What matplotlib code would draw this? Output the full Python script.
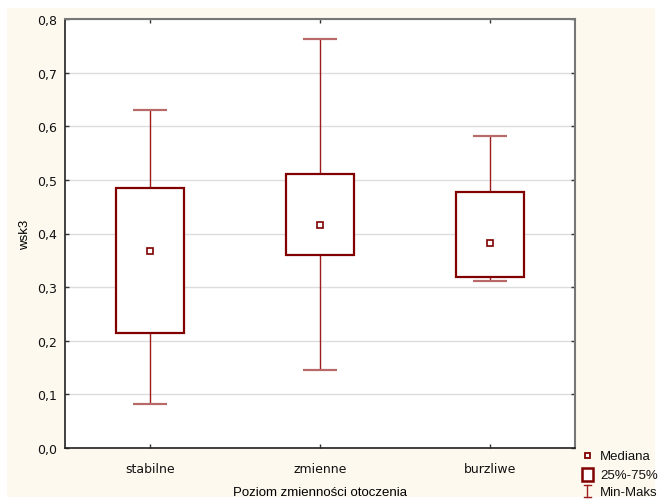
import matplotlib
matplotlib.use("Agg")
import matplotlib.pyplot as plt
from matplotlib.patches import Rectangle
from matplotlib.ticker import FuncFormatter

categories = ["stabilne", "zmienne", "burzliwe"]
minimum = [0.082, 0.145, 0.311]
q25 = [0.214, 0.360, 0.319]
median = [0.367, 0.416, 0.382]
q75 = [0.485, 0.511, 0.477]
maximum = [0.630, 0.763, 0.582]
legend_labels = ["Mediana", "25%-75%", "Min-Maks"]

box_color = "#800000"
whisk_color = "#9E1B1B"
cap_color = "#B86A6A"
bg_color = "#FDF9EF"

W, H = 663, 502
fig = plt.figure(figsize=(W / 100, H / 100), dpi=100, facecolor="white")

# full-figure overlay in pixel units for the cream panel
over = fig.add_axes([0, 0, 1, 1], zorder=-5)
over.set_xlim(0, W)
over.set_ylim(H, 0)
over.axis("off")
over.add_patch(Rectangle((7, 9), 648, 489, facecolor=bg_color, edgecolor="none"))

ax = fig.add_axes([65 / W, 1 - 449 / H, 510 / W, 429 / H])
ax.set_facecolor("white")

box_half = 0.2
cap_half = 0.1
for i in range(len(categories)):
    ax.vlines(i, maximum[i], q75[i], color=whisk_color, lw=1.0, zorder=2)
    ax.vlines(i, minimum[i], q25[i], color=whisk_color, lw=1.0, zorder=2)
    ax.hlines([minimum[i], maximum[i]], i - cap_half, i + cap_half,
              color=cap_color, lw=1.6, zorder=2)
    ax.add_patch(Rectangle((i - box_half, q25[i]), 2 * box_half, q75[i] - q25[i],
                           facecolor="white", edgecolor=box_color, lw=1.6, zorder=3))
    ax.plot(i, median[i], marker="s", ms=5, mfc="white", mec=box_color, mew=1.2,
            zorder=4)

ax.set_xlim(-0.5, 2.5)
ax.set_ylim(0, 0.8)
ax.set_xticks(range(len(categories)))
ax.set_xticklabels(categories)
ax.set_yticks([i / 10 for i in range(9)])
ax.yaxis.set_major_formatter(FuncFormatter(lambda v, p: f"{v:.1f}".replace(".", ",")))
ax.grid(axis="y", color="#DDDDDD", lw=1.0)
ax.set_axisbelow(True)

ax.tick_params(axis="both", direction="in", length=3, width=1, colors="#333333",
               labelcolor="#111111", labelsize=9, top=True, right=True)
ax.tick_params(axis="x", pad=10)
ax.tick_params(axis="y", pad=6)
for side in ["left", "bottom"]:
    ax.spines[side].set_color("#222222")
    ax.spines[side].set_linewidth(1.2)
for side in ["top", "right"]:
    ax.spines[side].set_color("#777777")
    ax.spines[side].set_linewidth(1.5)

ax.set_xlabel("Poziom zmienności otoczenia", fontsize=9.5, family="Liberation Sans",
              labelpad=8)
ax.set_ylabel("wsk3", fontsize=9.5, family="Liberation Sans")
ax.yaxis.set_label_coords((31 - 65) / 510, 0.5)

# legend drawn in pixel units at the lower right
legend_ax = fig.add_axes([0, 0, 1, 1], zorder=5)
legend_ax.set_xlim(0, W)
legend_ax.set_ylim(H, 0)
legend_ax.axis("off")
lx, rows = 587, [456, 475, 492]
legend_ax.add_patch(Rectangle((lx - 2.5, rows[0] - 2.5), 5, 5, facecolor="white",
                              edgecolor=box_color, lw=1.3))
legend_ax.add_patch(Rectangle((lx - 5.5, rows[1] - 6.5), 11, 13, facecolor="white",
                              edgecolor=box_color, lw=1.8))
legend_ax.plot([lx, lx], [rows[2] - 6, rows[2] + 6], color=whisk_color, lw=1.0)
legend_ax.plot([lx - 3.5, lx + 3.5], [rows[2] - 6, rows[2] - 6], color=whisk_color, lw=1.0)
legend_ax.plot([lx - 3.5, lx + 3.5], [rows[2] + 6, rows[2] + 6], color=whisk_color, lw=1.0)
for y, lab in zip(rows, legend_labels):
    legend_ax.text(600, y + 1, lab, fontsize=9.5, family="Liberation Sans",
                   va="center", ha="left", color="#111111")

fig.savefig("out.png", dpi=100, facecolor="white")
